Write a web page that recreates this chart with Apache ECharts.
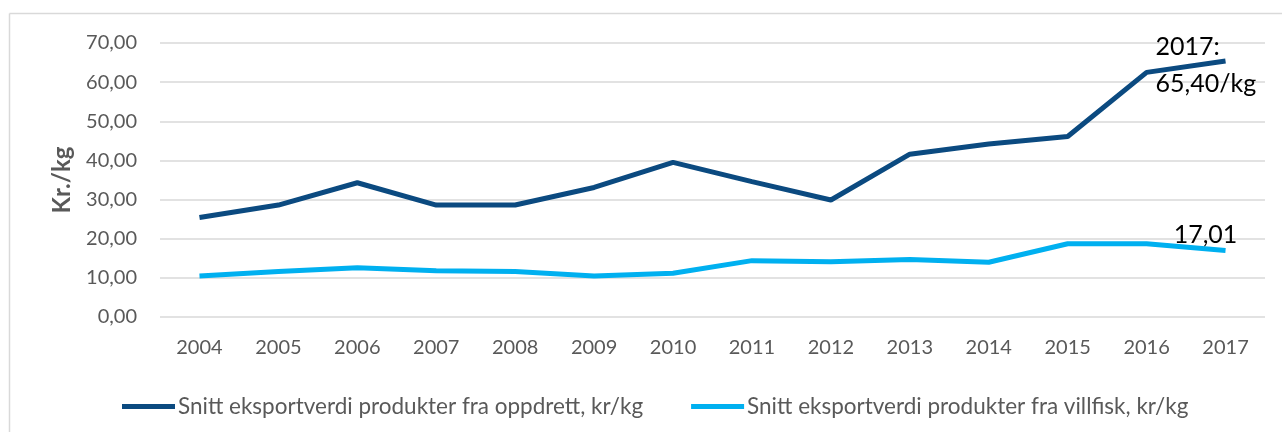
<!DOCTYPE html>
<html>
<head>
<meta charset="utf-8">
<script src="https://cdn.jsdelivr.net/npm/echarts@6/dist/echarts.min.js"></script>
<style>
  html, body { margin: 0; padding: 0; background: #fff; }
  #chart { width: 1282px; height: 432px; }
</style>
</head>
<body>
<div id="chart"></div>
<script>
// data
var years = ["2004", "2005", "2006", "2007", "2008", "2009", "2010",
  "2011", "2012", "2013", "2014", "2015", "2016", "2017"];
var oppdrett = [25.4, 28.6, 34.3, 28.6, 28.6, 33.1, 39.5,
  34.6, 29.9, 41.6, 44.2, 46.1, 62.5, 65.40];
var villfisk = [10.5, 11.6, 12.6, 11.8, 11.6, 10.5, 11.2,
  14.4, 14.1, 14.7, 14.0, 18.7, 18.7, 17.01];
var seriesNames = [
  "Snitt eksportverdi produkter fra oppdrett, kr/kg",
  "Snitt eksportverdi produkter fra villfisk, kr/kg"
];

var font = "Lato, 'Open Sans', sans-serif";

function comma(v) {
  return v.toFixed(2).replace(".", ",");
}

var last = years.length - 1;

var chart = echarts.init(document.getElementById("chart"));

var option = {
  animation: false,
  textStyle: { fontFamily: font },
  graphic: [
    { type: "line", shape: { x1: 9.5, y1: 13.5, x2: 9.5, y2: 432 },
      style: { stroke: "#d9d9d9", lineWidth: 1.5 } },
    { type: "line", shape: { x1: 9.5, y1: 13.5, x2: 1282, y2: 13.5 },
      style: { stroke: "#d9d9d9", lineWidth: 1.5 } }
  ],
  grid: { left: 160, right: 17, top: 43, bottom: 115 },
  legend: {
    left: 117,
    top: 390,
    icon: "rect",
    itemWidth: 53,
    itemHeight: 5,
    itemGap: 48,
    textStyle: { color: "#595959", fontSize: 22.5, fontFamily: font, padding: [0, 0, 0, -2] },
    data: seriesNames
  },
  xAxis: {
    type: "category",
    data: years,
    boundaryGap: true,
    axisLine: { show: false },
    axisTick: { show: false },
    axisLabel: { color: "#595959", fontSize: 20, margin: 21 }
  },
  yAxis: {
    type: "value",
    min: 0,
    max: 70,
    interval: 10,
    name: "Kr./kg",
    nameLocation: "middle",
    nameGap: 86,
    nameTextStyle: { color: "#595959", fontSize: 24, fontWeight: "bold" },
    axisLabel: {
      color: "#595959",
      fontSize: 20,
      margin: 23,
      formatter: function (v) { return comma(v); }
    },
    splitLine: { lineStyle: { color: "#d9d9d9", width: 1.5 } }
  },
  series: [
    {
      name: seriesNames[0],
      type: "line",
      data: oppdrett.map(function (v, i) {
        if (i !== last) return v;
        return {
          value: v,
          label: {
            show: true,
            position: "inside",
            offset: [-70, 4],
            align: "left",
            color: "#000",
            fontSize: 25,
            lineHeight: 37,
            formatter: function () {
              return years[last] + ":\n" + comma(oppdrett[last]) + "/kg";
            }
          }
        };
      }),
      symbol: "circle",
      symbolSize: 0,
      lineStyle: { color: "#0b4a80", width: 5 },
      itemStyle: { color: "#0b4a80" }
    },
    {
      name: seriesNames[1],
      type: "line",
      data: villfisk.map(function (v, i) {
        if (i !== last) return v;
        return {
          value: v,
          label: {
            show: true,
            position: "top",
            offset: [-20, 0],
            distance: 3,
            color: "#000",
            fontSize: 25,
            formatter: function () { return comma(villfisk[last]); }
          }
        };
      }),
      symbol: "circle",
      symbolSize: 0,
      lineStyle: { color: "#00b0f0", width: 5 },
      itemStyle: { color: "#00b0f0" }
    }
  ]
};

chart.setOption(option);
</script>
</body>
</html>
